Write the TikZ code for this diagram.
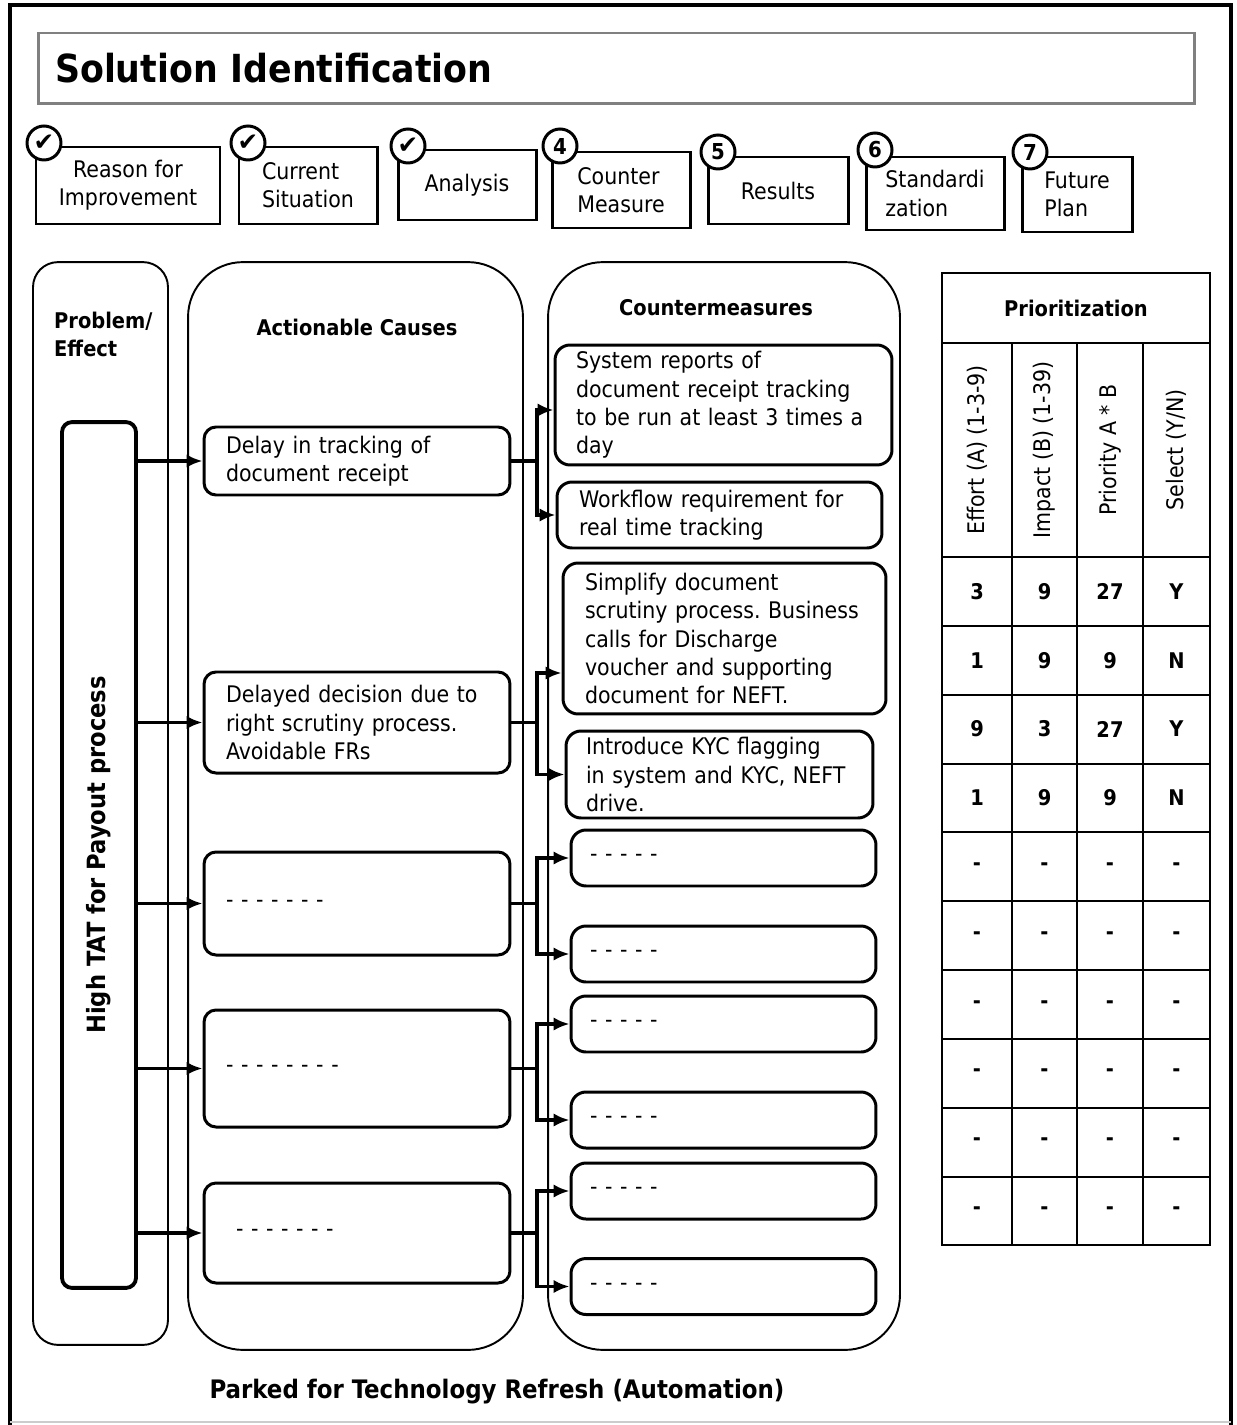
\documentclass[tikz,border=0pt]{standalone}
\usepackage{fontspec}
\setmainfont{DejaVu Sans Condensed}
\newfontfamily\marksfont{DejaVu Sans}
\usetikzlibrary{arrows.meta}
\frenchspacing
\newdimen\px
\px=0.02cm
\newcommand{\tick}{{\marksfont\fontsize{14}{14}\selectfont ✔}}
\tikzset{%
  step box/.style={
    draw,
    line width=1.7pt,
    inner sep=2pt,
    font=\fontsize{13}{16}\selectfont
  },
  step mark/.style={
    circle,
    draw,
    line width=1.7pt,
    fill=white,
    minimum size=0.68cm,
    inner sep=0pt,
    font=\bfseries\fontsize{12.5}{12.5}\selectfont
  },
  lane/.style={
    draw,
    line width=1.1pt
  },
  lane head/.style={
    align=left,
    font=\bfseries\fontsize{12.3}{16}\selectfont
  },
  cause/.style={
    draw,
    line width=1.7pt,
    rounded corners=0.24cm,
    align=left,
    inner xsep=0.44cm,
    text width=5.24cm,
    minimum width=6.12cm,
    font=\fontsize{13}{16.2}\selectfont
  },
  counter/.style={
    draw,
    line width=1.7pt,
    rounded corners=0.3cm,
    align=left,
    font=\fontsize{13}{16.2}\selectfont
  },
  link/.style={
    line width=1.8pt,
    ->
  },
  grid line/.style={
    line width=1.6pt
  },
  cell/.style={
    font=\bfseries\fontsize{12.3}{12.3}\selectfont
  },
  cell head/.style={
    rotate=90,
    font=\fontsize{13}{13}\selectfont
  },
}

\begin{document}
\begin{tikzpicture}[x=0.02cm, y=-0.02cm, >={Latex[length=9pt,width=7.5pt]}]

\useasboundingbox (0,0) rectangle (1236,1425);

% frame and title
\draw[line width=2.6pt] (10,1425) -- (10,5) -- (1231,5) -- (1231,1425);
\draw[gray!40, line width=1pt] (10,1422) -- (1231,1422);
\node[draw=gray, line width=1.7pt, minimum width=23.14cm, minimum height=1.42cm,
  inner xsep=0.34cm, text width=22.46cm, align=left,
  font=\bfseries\fontsize{22}{22}\selectfont] (title) at (616.5,68.5) {Solution Identification};

% the seven steps
\foreach \t/\a/\x/\y/\w/\h/\cx/\cy/\m [count=\i] in {
  {Reason for\\Improvement}/center/128/185.5/184/77/44/143/\tick,
  {Current\\Situation}/left/308/185.5/138/77/248/143/\tick,
  {Analysis}/left/467/185/138/70/408/146/\tick,
  {Counter\\Measure}/left/621/190/138/76/560/146/4,
  {Results}/left/778/190.5/140/67/718/152/5,
  {Standardi\\zation}/left/935/193.5/138/73/875/150/6,
  {Future\\Plan}/left/1077/194.5/110/75/1030/152/7}
{
  \node[step box, align=\a, minimum width=\w*\px, minimum height=\h*\px] (step-\i) at (\x,\y) {\t};
  \node[step mark] (mark-\i) at (\cx,\cy) {\m};
}

% lanes
\node[lane, rounded corners=0.5cm, minimum width=2.7cm, minimum height=21.66cm] (lane-problem) at (100.5,803.5) {};
\node[lane, rounded corners=1.1cm, minimum width=6.7cm, minimum height=21.76cm] (lane-cause) at (355.5,806) {};
\node[lane, rounded corners=1.1cm, minimum width=7.04cm, minimum height=21.76cm] (lane-counter) at (724,806) {};

\node[lane head, anchor=west] (head-problem) at (48,334) {Problem/\\Effect};
\node[lane head] (head-cause) at (357,327) {Actionable Causes};
\node[lane head] (head-counter) at (716,308) {Countermeasures};

% problem
\node[draw, line width=2.2pt, rounded corners=0.2cm, minimum width=1.48cm, minimum height=17.32cm,
  font=\bfseries\fontsize{14.3}{14.3}\selectfont] (problem) at (99,855) {\rotatebox{90}{High TAT for Payout process}};

% causes
\foreach \t/\y/\h [count=\i] in {
  {Delay in tracking of\\document receipt}/461/68,
  {Delayed decision due to\\right scrutiny process.\\Avoidable FRs}/722.5/101,
  {- - - - - - -}/903.5/103,
  {- - - - - - - -}/1068.5/117,
  {\hspace*{0.2cm}- - - - - - -}/1233/100}
  \node[cause, minimum height=\h*\px] (cause-\i) at (357,\y) {\t};

% countermeasures
\node[counter, minimum width=6.74cm, minimum height=2.4cm, inner xsep=0.42cm, text width=5.9cm]
  (cm-1) at (723.5,405) {System reports of\\document receipt tracking\\to be run at least 3 times a\\day};
\node[counter, minimum width=6.5cm, minimum height=1.32cm, inner xsep=0.44cm, text width=5.62cm]
  (cm-2) at (719.5,515) {Workflow requirement for\\real time tracking};
\node[counter, minimum width=6.46cm, minimum height=3.02cm, inner xsep=0.44cm, text width=5.58cm]
  (cm-3) at (724.5,638.5) {Simplify document\\scrutiny process. Business\\calls for Discharge\\voucher and supporting\\document for NEFT.};
\node[counter, minimum width=6.14cm, minimum height=1.74cm, inner xsep=0.4cm, text width=5.34cm]
  (cm-4) at (719.5,774.5) {Introduce KYC flagging\\in system and KYC, NEFT\\drive.};
\foreach \y [count=\i from 5] in {858,954,1024,1120,1191,1286.5}
  \node[counter, minimum width=6.1cm, minimum height=1.12cm, inner xsep=0.38cm, text width=5.34cm]
    (cm-\i) at (723.5,\y) {- - - - -};

% links
\foreach \i in {1,...,5}
  \draw[link] (problem.east |- cause-\i.west) -- (cause-\i.west);

\coordinate (fork) at (537,0);
\foreach \i/\a/\b/\s in {1/1/2/-0.1cm, 2/3/4/-0.69cm, 3/5/6/0cm, 4/7/8/0cm, 5/9/10/0cm} {
  \draw[link] (cause-\i.east) -- (cause-\i.east -| fork) |- ([yshift=\s]cm-\a.west);
  \draw[link] (cause-\i.east -| fork) |- (cm-\b.west);
}

% prioritization table
\draw[grid line] (942,273) rectangle (1210,1245);
\foreach \y in {343,557,626,695,764,832,901,970,1039,1108,1177}
  \draw[grid line] (942,\y) -- (1210,\y);
\foreach \x in {1012,1077,1143}
  \draw[grid line] (\x,343) -- (\x,1245);

\node[lane head] (prio-head) at (1076,308) {Prioritization};
\foreach \t/\x [count=\i] in {{Effort (A) (1-3-9)}/977, {Impact (B) (1-39)}/1044.5,
  {Priority A * B}/1110, {Select (Y/N)}/1176.5}
  \node[cell head] (prio-col-\i) at (\x,450) {\t};

\foreach \a/\b/\c/\d [count=\r] in {3/9/27/Y, 1/9/9/N, 9/3/27/Y, 1/9/9/N,
  -/-/-/-, -/-/-/-, -/-/-/-, -/-/-/-, -/-/-/-, -/-/-/-} {
  \node[cell] (val-\r-1) at (977,{522.6+\r*68.8}) {\a};
  \node[cell] (val-\r-2) at (1044.5,{522.6+\r*68.8}) {\b};
  \node[cell] (val-\r-3) at (1110,{522.6+\r*68.8}) {\c};
  \node[cell] (val-\r-4) at (1176.5,{522.6+\r*68.8}) {\d};
}

\node[font=\bfseries\fontsize{14.5}{14.5}\selectfont] (footer) at (497,1392) {Parked for Technology Refresh (Automation)};

\end{tikzpicture}
\end{document}
